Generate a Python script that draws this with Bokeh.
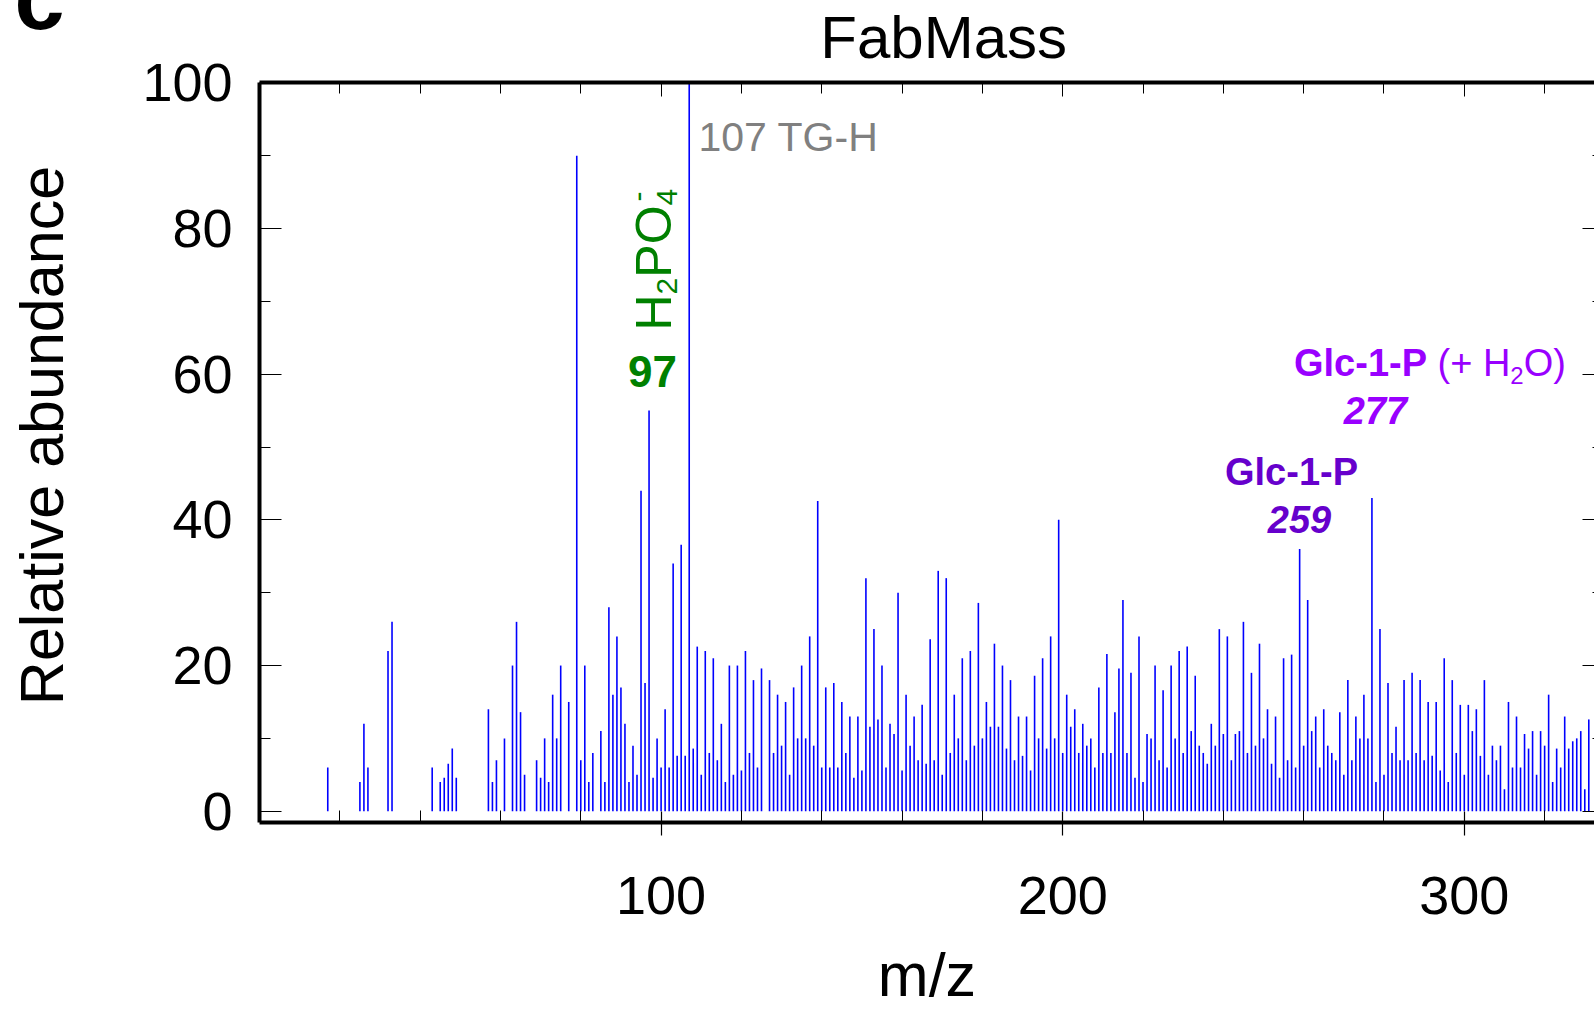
import math
from bokeh.plotting import figure
from bokeh.models import (Label, LinearAxis, FixedTicker, Range1d, Title,
                          CustomJSTickFormatter)
from bokeh.embed import file_html
from bokeh.resources import INLINE

# ---------------- data ----------------
mz = [17, 25, 26, 27, 32, 33, 43, 45, 46, 47, 48, 49, 57, 58, 59, 61, 63, 64, 65, 66,
      69, 70, 71, 72, 73, 74, 75, 77, 79, 80, 81, 82, 83,
      85, 86, 87, 88, 89, 90, 91, 92, 93, 94, 95, 96, 97, 98, 99, 100,
      101, 102, 103, 104, 105, 106, 107, 108, 109, 110, 111, 112, 113, 114, 115, 116,
      117, 118, 119, 120, 121, 122, 123, 124, 125, 127, 128, 129, 130, 131, 132, 133,
      134, 135, 136, 137, 138, 139, 140, 141, 142, 143, 144, 145, 146, 147, 148, 149,
      150, 151, 152, 153, 154, 155, 156, 157, 158, 159, 160, 161, 162, 163, 164, 165,
      166, 167, 168, 169, 170, 171, 172, 173, 174, 175, 176, 177, 178, 179, 180, 181,
      182, 183, 184, 185, 186, 187, 188, 189, 190, 191, 192, 193, 194, 195, 196, 197,
      198, 199, 200, 201, 202, 203, 204, 205, 206, 207, 208, 209, 210, 211, 212, 213,
      214, 215, 216, 217, 218, 219, 220, 221, 222, 223, 224, 225, 226, 227, 228, 229,
      230, 231, 232, 233, 234, 235, 236, 237, 238, 239, 240, 241, 242, 243, 244, 245,
      246, 247, 248, 249, 250, 251, 252, 253, 254, 255, 256, 257, 258, 259, 260, 261,
      262, 263, 264, 265, 266, 267, 268, 269, 270, 271, 272, 273, 274, 275, 276, 277,
      278, 279, 280, 281, 282, 283, 284, 285, 286, 287, 288, 289, 290, 291, 292, 293,
      294, 295, 296, 297, 298, 299, 300, 301, 302, 303, 304, 305, 306, 307, 308, 309,
      310, 311, 312, 313, 314, 315, 316, 317, 318, 319, 320, 321, 322, 323, 324, 325,
      326, 327, 328, 329, 330, 331]

intensity = [6, 4, 12, 6, 22, 26, 6, 4, 4.6, 6.5, 8.6, 4.6, 14, 4, 7, 10, 20, 26, 13.6, 5,
             7, 4.6, 10, 4, 16, 10, 20, 15, 90, 7, 20, 4, 8,
             11, 4, 28, 16, 24, 17, 12, 4, 9, 5, 44, 17.6, 55, 4.6, 10, 6,
             14, 6, 34, 7.6, 36.6, 7.6, 100, 8.6, 22.6, 5, 22, 8, 21, 7, 12, 4,
             20, 5, 20, 5.6, 22, 8, 18, 6, 19.6, 18, 8, 16, 9, 15, 5, 17,
             10, 20, 10, 24, 9, 42.6, 6, 17, 6, 17.6, 6, 15, 8, 13, 4.6, 13,
             5.6, 32, 11.6, 25, 12.6, 20, 6, 12, 10.6, 30, 5.6, 16, 9, 13, 7, 14.6,
             6.5, 23.6, 7, 33, 5, 32, 8, 16, 10, 21, 7, 22, 9, 28.6, 10, 15,
             11.6, 23, 11.6, 20, 8.6, 18, 7, 13, 7.6, 13, 5.6, 18.6, 10, 21, 8.6, 24,
             10, 40, 8, 16, 11.6, 14, 8, 12, 9, 10, 6, 17, 8, 21.6, 8, 13.6,
             19.6, 29, 8, 19, 4.6, 24, 4, 10.6, 10, 20, 7, 16.6, 6, 20, 10, 22,
             8, 22.6, 11, 18.6, 9, 8, 6.5, 12, 9, 25, 10.6, 24, 7, 10.6, 11, 26,
             8, 19, 9, 23, 10, 14, 6.5, 13, 4.6, 21, 7, 21.5, 6, 36, 9, 29,
             11, 13, 6, 14, 9, 8, 7, 13.6, 5, 18, 7, 13, 10, 16, 10, 43,
             4, 25, 5, 17.6, 8, 11.6, 7, 18, 7, 19, 8, 18, 7, 15, 7.6, 15,
             5.6, 21, 4, 18, 8, 14.6, 5, 14.6, 11, 14, 7.6, 18, 5, 9, 7, 9,
             3, 15, 6, 13, 6, 10.6, 8.6, 11, 5, 11, 9, 16, 4, 8.6, 6, 13,
             8.6, 9.6, 10, 11, 3, 12.6]

x_major = [100, 200, 300]
x_minor = [20, 40, 60, 80, 120, 140, 160, 180, 220, 240, 260, 280, 320]
y_major = [0, 20, 40, 60, 80, 100]
y_minor = [10, 30, 50, 70, 90]

title_text = "FabMass"
panel_letter = "c"
x_label = "m/z"
y_label = "Relative abundance"

# ---------------- geometry ----------------
W, H = 1594, 1014
FL, FR, FT, FB = 259, 1594, 82, 822
KX = 4.016
XMIN = 0.0
XMAX = XMIN + (FR - FL) / KX
YMIN, YMAX = -1.55, 100.05
KY = (FB - FT) / (YMAX - YMIN)


def dx(cx):
    return XMIN + (cx - FL) / KX


def dy(cy):
    return YMAX - (cy - FT) / KY


FONT = "Liberation Sans"
EMPTY = CustomJSTickFormatter(code="return ''")
NBSP = "\u00a0"

p = figure(width=W, height=H, output_backend="svg", toolbar_location=None,
           title=None,
           x_range=Range1d(XMIN, XMAX), y_range=Range1d(YMIN, YMAX),
           min_border_left=FL, min_border_right=0, min_border_top=FT,
           min_border_bottom=H - FB)
p.grid.visible = False
p.outline_line_color = None
p.background_fill_color = "white"
p.border_fill_color = "white"

# spectrum sticks
p.segment(x0=mz, y0=[0] * len(mz), x1=mz, y1=intensity,
          line_color="#0000ff", line_width=1.6)

# bottom axis
xa = p.xaxis[0]
xa.ticker = FixedTicker(ticks=x_major, minor_ticks=x_minor)
xa.axis_line_width = 4
xa.axis_line_color = "black"
xa.major_tick_in = 11
xa.major_tick_out = 13
xa.minor_tick_in = 12
xa.minor_tick_out = 0
xa.major_tick_line_width = 1.2
xa.minor_tick_line_width = 1
xa.major_label_text_font = FONT
xa.major_label_text_font_size = "54px"
xa.major_label_text_color = "black"
xa.major_label_standoff = 41
xa.axis_label = x_label
xa.axis_label_text_font = FONT
xa.axis_label_text_font_size = "61px"
xa.axis_label_text_font_style = "normal"
xa.axis_label_text_color = "black"
xa.axis_label_standoff = 24

# left axis
ya = p.yaxis[0]
ya.ticker = FixedTicker(ticks=y_major, minor_ticks=y_minor)
ya.axis_line_width = 4
ya.axis_line_color = "black"
ya.major_tick_in = 22
ya.major_tick_out = 0
ya.minor_tick_in = 11
ya.minor_tick_out = 0
ya.major_tick_line_width = 1.2
ya.minor_tick_line_width = 1
ya.major_label_text_font = FONT
ya.major_label_text_font_size = "54px"
ya.major_label_text_color = "black"
ya.major_label_standoff = 27
# two leading no-break spaces shift the centred label up, as in the reference
ya.axis_label = NBSP * 2 + y_label
ya.axis_label_text_font = FONT
ya.axis_label_text_font_size = "61px"
ya.axis_label_text_font_style = "normal"
ya.axis_label_text_color = "black"
ya.axis_label_standoff = 63

# top axis (ticks only, carries the chart title as its label)
ta = LinearAxis(ticker=FixedTicker(ticks=x_major, minor_ticks=x_minor),
                formatter=EMPTY)
ta.axis_line_width = 4
ta.axis_line_color = "black"
ta.major_tick_in = 14
ta.major_tick_out = 0
ta.minor_tick_in = 11
ta.minor_tick_out = 0
ta.major_label_text_font_size = "1px"
ta.major_label_standoff = 0
ta.axis_label = NBSP * 2 + title_text
ta.axis_label_text_font = FONT
ta.axis_label_text_font_size = "60px"
ta.axis_label_text_font_style = "normal"
ta.axis_label_text_color = "black"
ta.axis_label_standoff = 12
p.add_layout(ta, "above")

# right axis (only the inner tick stubs are visible)
ra = LinearAxis(ticker=FixedTicker(ticks=y_major, minor_ticks=y_minor),
                formatter=EMPTY)
ra.axis_line_color = None
ra.major_tick_in = 12
ra.major_tick_out = 0
ra.minor_tick_in = 2
ra.minor_tick_out = 0
ra.major_label_text_font_size = "1px"
ra.major_label_standoff = 0
p.add_layout(ra, "right")

# cropped panel letter in the top-left corner
p.title = Title(text=panel_letter, align="left", offset=14 - FL,
                vertical_align="top", standoff=-106,
                text_font=FONT, text_font_size="90px", text_font_style="bold",
                text_color="black")


def lab(text, cx, base, size, color="black", style="normal", align="left",
        rotated=False):
    """cx, base: canvas pixel position of the text start/centre and baseline."""
    if rotated:
        x, y, ang = dx(base - 0.375 * size), dy(cx), math.pi / 2
    else:
        x, y, ang = dx(cx), dy(base - 0.375 * size), 0.0
    p.add_layout(Label(x=x, y=y, text=text, text_font=FONT,
                       text_font_size=f"{size}px", text_color=color,
                       text_font_style=style, text_align=align,
                       text_baseline="alphabetic", angle=ang))


GRAY = "#808080"
GREEN = "#008000"
V1 = "#6600cc"
V2 = "#9900ff"

lab("107 TG-H", 698, 152, 41, color=GRAY)
lab("97", 652, 387, 44, color=GREEN, style="bold", align="center")

# rotated H2PO4- : for rotated pieces cx is the canvas y where the piece starts,
# base is the canvas x of its baseline
F, S = 50, 30
y0 = 330
lab("H", y0, 672, F, color=GREEN, rotated=True)
y1 = y0 - 0.722 * F
lab("2", y1, 678, S, color=GREEN, rotated=True)
y2 = y1 - 0.556 * S
lab("PO", y2, 672, F, color=GREEN, rotated=True)
y3 = y2 - 1.445 * F
lab("4", y3, 678, S, color=GREEN, rotated=True)
lab("-", y3 - 4, 649, S, color=GREEN, rotated=True)

lab("Glc-1-P", 1291, 486, 38, color=V1, style="bold", align="center")
lab("259", 1299, 533, 38, color=V1, style="bold italic", align="center")
lab("Glc-1-P", 1360, 377, 38, color=V2, style="bold", align="center")
lab("277", 1375, 424, 38, color=V2, style="bold italic", align="center")
hx = 1437
lab("(+ H", hx, 377, 38, color=V2)
lab("2", hx + 1.917 * 38, 384, 24, color=V2)
lab("O)", hx + 1.917 * 38 + 0.556 * 24, 377, 38, color=V2)

open("out.html", "w").write(file_html(p, INLINE))
